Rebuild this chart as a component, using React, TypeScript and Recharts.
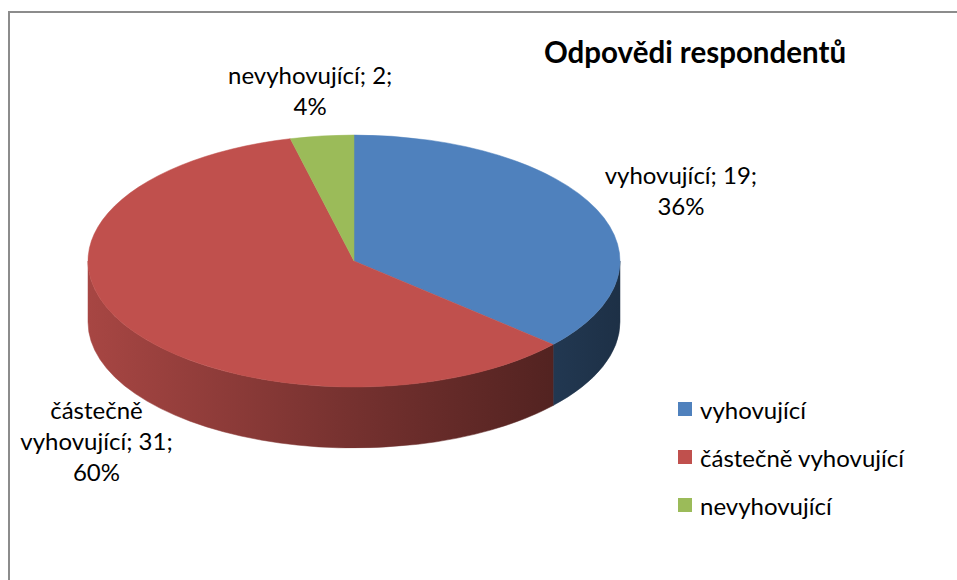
import React from 'react';
import { PieChart, Pie, Cell, Legend } from 'recharts';

const categories = ['vyhovující', 'částečně vyhovující', 'nevyhovující'];
const counts = [19, 31, 2];
const percentLabels = [36, 60, 4];
const colors = ['#4f81bd', '#c0504d', '#9bbb59'];

const chartTitle = 'Odpovědi respondentů';

const data = categories.map((name, i) => ({ name, value: counts[i] }));

const FONT = 'Lato, "Noto Sans", sans-serif';
const TILT = 126 / 266;
const DEPTH = 61;
const LABEL_SIZE = 24;
const LINE_H = 31;

const shade = (hex: string, f: number) => {
  const n = parseInt(hex.slice(1), 16);
  const c = [(n >> 16) & 255, (n >> 8) & 255, n & 255].map((v) => Math.round(v * f));
  return `rgb(${c[0]},${c[1]},${c[2]})`;
};

const pt = (cx: number, cy: number, rx: number, ry: number, deg: number) => {
  const r = (deg * Math.PI) / 180;
  return [cx + rx * Math.cos(r), cy - ry * Math.sin(r)];
};

// elliptical sector with a side wall, gives the flat pie a 3d look
const Sector3D = (props: any) => {
  const { cx, cy, outerRadius, startAngle, endAngle, fill, index } = props;
  const rx = outerRadius;
  const ry = outerRadius * TILT;
  const lo = Math.min(startAngle, endAngle);
  const hi = Math.max(startAngle, endAngle);

  const walls: number[][] = [];
  for (const k of [-2, -1, 0, 1]) {
    const a = Math.max(lo, -180 + 360 * k);
    const b = Math.min(hi, 360 * k);
    if (b > a) walls.push([a, b]);
  }

  const gid = `side-${index}`;
  const s = pt(cx, cy, rx, ry, startAngle);
  const e = pt(cx, cy, rx, ry, endAngle);
  const large = Math.abs(startAngle - endAngle) > 180 ? 1 : 0;
  const sweep = startAngle > endAngle ? 1 : 0;
  const top = `M${cx},${cy} L${s[0]},${s[1]} A${rx},${ry} 0 ${large} ${sweep} ${e[0]},${e[1]} Z`;

  return (
    <g>
      <defs>
        <linearGradient id={gid} gradientUnits="userSpaceOnUse" x1={cx - rx} y1={0} x2={cx + rx} y2={0}>
          <stop offset="0%" stopColor={shade(fill, 0.87)} />
          <stop offset="50%" stopColor={shade(fill, 0.61)} />
          <stop offset="100%" stopColor={shade(fill, 0.37)} />
        </linearGradient>
      </defs>
      {walls.map(([a, b], i) => {
        const p1 = pt(cx, cy, rx, ry, b);
        const p2 = pt(cx, cy, rx, ry, a);
        const d = `M${p1[0]},${p1[1]} A${rx},${ry} 0 0 1 ${p2[0]},${p2[1]} L${p2[0]},${p2[1] + DEPTH} A${rx},${ry} 0 0 0 ${p1[0]},${p1[1] + DEPTH} Z`;
        return <path key={i} d={d} fill={`url(#${gid})`} stroke={`url(#${gid})`} strokeWidth={0.5} />;
      })}
      <path d={top} fill={fill} stroke={fill} strokeWidth={0.5} />
    </g>
  );
};

const wrap = (text: string, max: number) => {
  const lines: string[] = [];
  let cur = '';
  text.split(' ').forEach((w) => {
    const next = cur ? `${cur} ${w}` : w;
    if (next.length > max && cur) {
      lines.push(cur);
      cur = w;
    } else {
      cur = next;
    }
  });
  if (cur) lines.push(cur);
  return lines;
};

// label sits just outside the rim, pushed out along the mid angle
const renderLabel = (props: any) => {
  const { cx, cy, midAngle, outerRadius, index } = props;
  const rad = (midAngle * Math.PI) / 180;
  const cos = Math.cos(rad);
  const sin = Math.sin(rad);
  const rim = pt(cx, cy, outerRadius, outerRadius * TILT, midAngle);
  const rimY = rim[1] + (sin < 0 ? DEPTH * 1.35 : 0);

  const lines = wrap(`${categories[index]}; ${counts[index]}; ${percentLabels[index]}%`, 16);
  const hw = (Math.max(...lines.map((l) => l.length)) * 10.2) / 2;
  const hh = (lines.length * LINE_H) / 2;

  let x = rim[0] + cos * (hw + 16);
  x = Math.max(x, hw + 10);
  const y = rimY - sin * (hh + 15);
  const y0 = y - ((lines.length - 1) * LINE_H) / 2;
  return (
    <text x={x} y={y0} textAnchor="middle" fill="#000" fontSize={LABEL_SIZE} fontFamily={FONT}>
      {lines.map((l, i) => (
        <tspan key={i} x={x} y={y0 + i * LINE_H} dominantBaseline="central">
          {l}
        </tspan>
      ))}
    </text>
  );
};

const renderLegend = () => (
  <div style={{ fontFamily: FONT, fontSize: LABEL_SIZE, color: '#000' }}>
    {categories.map((name, i) => (
      <div key={name} style={{ display: 'flex', alignItems: 'center', height: 48 }}>
        <span style={{ width: 14, height: 14, background: colors[i], marginRight: 8, display: 'inline-block' }} />
        <span>{name}</span>
      </div>
    ))}
  </div>
);

export default function App() {
  return (
    <div
      style={{
        position: 'fixed',
        left: 8,
        top: 11,
        width: 1000,
        height: 620,
        borderTop: '2px solid #8c8c8c',
        borderLeft: '2px solid #8c8c8c',
        fontFamily: FONT,
        background: '#fff',
      }}
    >
      <div
        style={{
          position: 'absolute',
          left: 485,
          width: 400,
          top: 21,
          textAlign: 'center',
          fontWeight: 700,
          fontSize: 29.5,
          lineHeight: '36px',
          color: '#000',
        }}
      >
        {chartTitle}
      </div>
      <PieChart width={990} height={610} margin={{ top: 0, right: 0, bottom: 0, left: 0 }}>
        <Pie
          data={data}
          dataKey="value"
          nameKey="name"
          cx={344}
          cy={248}
          outerRadius={266}
          startAngle={90}
          endAngle={-270}
          stroke="none"
          shape={Sector3D}
          activeShape={Sector3D}
          inactiveShape={Sector3D}
          label={renderLabel}
          labelLine={false}
          isAnimationActive={false}
        >
          {data.map((_, i) => (
            <Cell key={i} fill={colors[i]} />
          ))}
        </Pie>
        <Legend
          layout="vertical"
          content={renderLegend}
          wrapperStyle={{ position: 'absolute', left: 668, top: 372, width: 260 }}
        />
      </PieChart>
    </div>
  );
}
